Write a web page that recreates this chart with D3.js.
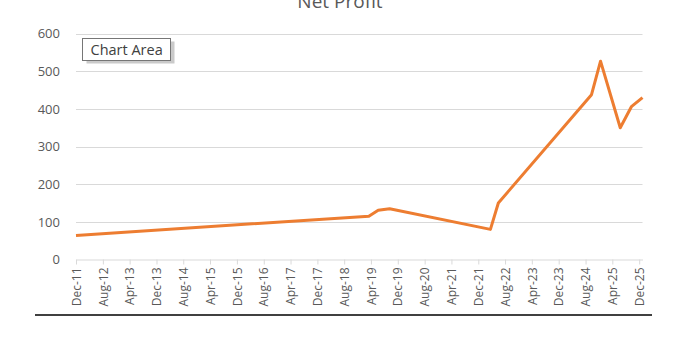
<!DOCTYPE html>
<html>
<head>
<meta charset="utf-8">
<script src="https://cdn.jsdelivr.net/npm/d3@7"></script>
<style>
  html, body { margin: 0; padding: 0; background: #fff; }
  svg { display: block; font-family: "Open Sans", sans-serif; }
  .grid line { stroke: #d9d9d9; stroke-width: 1; }
  .axis-x .domain, .axis-x .tick line { stroke: #d9d9d9; }
  .axis-x text, .axis-y text { fill: #595959; }
  .line-path { fill: none; stroke: #ed7d31; stroke-width: 3; stroke-linejoin: round; }
</style>
</head>
<body>
<div id="chart"></div>
<script>
const title = "Net Profit";
const dates = ["2011-12-01", "2019-03-13", "2019-06-06", "2019-09-18", "2022-03-21",
  "2022-06-01", "2024-09-24", "2024-12-15", "2025-06-12", "2025-09-21", "2025-12-31"];
const values = [64, 115, 131, 135, 80, 150, 438, 527, 350, 406, 430];
const xTickLabels = ["Dec-11", "Aug-12", "Apr-13", "Dec-13", "Aug-14", "Apr-15", "Dec-15",
  "Aug-16", "Apr-17", "Dec-17", "Aug-18", "Apr-19", "Dec-19", "Aug-20", "Apr-21",
  "Dec-21", "Aug-22", "Apr-23", "Dec-23", "Aug-24", "Apr-25", "Dec-25"];
const yTicks = [0, 100, 200, 300, 400, 500, 600];

const width = 679;
const height = 340;
const marginLeft = 76;
const marginRight = 36.5;
const marginTop = 33.7;
const axisY = 259.5;

const parseDate = d3.utcParse("%Y-%m-%d");
const parseTick = d3.utcParse("%b-%y");
const points = dates.map((d, i) => ({ date: parseDate(d), value: values[i] }));
const tickDates = xTickLabels.map(parseTick);

const x = d3.scaleUtc()
  .domain(d3.extent(points, (d) => d.date))
  .range([marginLeft, width - marginRight]);
const y = d3.scaleLinear()
  .domain([0, 600])
  .range([axisY, marginTop]);

const svg = d3.select("#chart").append("svg")
  .attr("width", width)
  .attr("height", height)
  .attr("viewBox", [0, 0, width, height]);

// title, mostly cut off at the top
svg.append("text")
  .attr("x", 340)
  .attr("y", 8)
  .attr("text-anchor", "middle")
  .attr("fill", "#595959")
  .attr("font-size", 19)
  .text(title);

// gridlines
svg.append("g").attr("class", "grid")
  .selectAll("line")
  .data(yTicks.filter((d) => d > 0))
  .join("line")
  .attr("x1", x.range()[0])
  .attr("x2", x.range()[1])
  .attr("y1", (d) => Math.round(y(d)) + 0.5)
  .attr("y2", (d) => Math.round(y(d)) + 0.5);

// y axis labels
svg.append("g")
  .attr("class", "axis-y")
  .attr("transform", "translate(60,0)")
  .call(d3.axisLeft(y).tickValues(yTicks).tickSize(0).tickPadding(0))
  .call((g) => g.select(".domain").remove())
  .call((g) => g.selectAll("text").attr("font-size", 13).attr("font-family", "Open Sans"));

// x axis with rotated labels
svg.append("g")
  .attr("class", "axis-x")
  .attr("transform", `translate(0,${axisY})`)
  .call(d3.axisBottom(x)
    .tickValues(tickDates)
    .tickFormat((d, i) => xTickLabels[i])
    .tickSizeInner(5)
    .tickSizeOuter(0))
  .call((g) => g.selectAll(".tick text")
    .attr("font-size", 12)
    .attr("font-family", "Open Sans")
    .attr("text-anchor", "end")
    .attr("transform", "rotate(-90)")
    .attr("x", -8)
    .attr("y", 0)
    .attr("dy", "0.35em"));

// line
const line = d3.line()
  .x((d) => x(d.date))
  .y((d) => y(d.value));

svg.append("path")
  .datum(points)
  .attr("class", "line-path")
  .attr("d", line);

// "Chart Area" hover label
const tip = svg.append("g").attr("transform", "translate(82.5,38.5)");
tip.append("rect")
  .attr("x", 4).attr("y", 3)
  .attr("width", 88).attr("height", 22)
  .attr("fill", "#a6a6a6")
  .attr("opacity", 0.6);
tip.append("rect")
  .attr("width", 88).attr("height", 22)
  .attr("fill", "#fff")
  .attr("stroke", "#767676");
tip.append("text")
  .attr("x", 8).attr("y", 16)
  .attr("fill", "#404040")
  .attr("font-size", 14.5)
  .text("Chart Area");

// bottom rule
svg.append("line")
  .attr("x1", 35).attr("x2", 652)
  .attr("y1", 315).attr("y2", 315)
  .attr("stroke", "#000")
  .attr("stroke-width", 1.5);
</script>
</body>
</html>
